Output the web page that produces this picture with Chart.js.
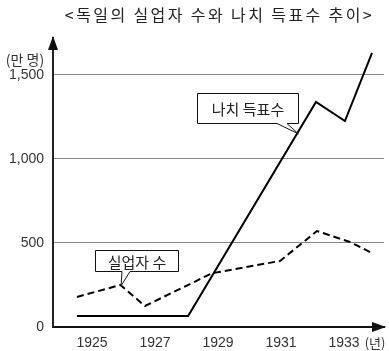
<!DOCTYPE html>
<html>
<head>
<meta charset="utf-8">
<script src="https://cdn.jsdelivr.net/npm/chart.js@4.4.1/dist/chart.umd.min.js"></script>
<style>
  html, body { margin: 0; padding: 0; background: #fff; }
  #wrap { width: 389px; height: 351px; }
</style>
</head>
<body>
<div id="wrap"><canvas id="chart"></canvas></div>
<script>
// values (만 명)
const yearTicks = [1925, 1927, 1929, 1931, 1933];
const valueTicks = [0, 500, 1000, 1500];

const naziYears = [1924.52, 1928.05, 1932.11, 1933.03, 1933.89];
const naziVotes = [65, 65, 1339, 1226, 1631];

const jobYears = [1924.52, 1925.9, 1926.68, 1928.81, 1930.97, 1932.14, 1933.19, 1933.89];
const jobless = [179, 250, 125, 320, 393, 571, 506, 440];

const titleText = '<독일의 실업자 수와 나치 득표수 추이>';
const KR = '"Noto Sans CJK KR", sans-serif';

function toPoints(xs, ys) {
  return xs.map((x, i) => ({ x: x, y: ys[i] }));
}

// title, callout boxes, axis arrows, unit labels
const extras = {
  id: 'extras',
  afterDraw(chart) {
    const c = chart.ctx;
    const x = chart.scales.x, y = chart.scales.y;
    const area = chart.chartArea;
    c.save();

    // title (wide letter spacing like the original)
    c.fillStyle = '#222';
    c.font = '16px ' + KR;
    c.textAlign = 'center';
    c.textBaseline = 'middle';
    c.letterSpacing = '2.4px';
    c.fillText(titleText, (area.left + area.right) / 2 + 1, 15);
    c.letterSpacing = '0px';

    // axis arrows
    c.fillStyle = '#111';
    c.beginPath();
    c.moveTo(area.left, area.top - 2);
    c.lineTo(area.left - 5, area.top + 12);
    c.lineTo(area.left + 5, area.top + 12);
    c.closePath();
    c.fill();
    c.beginPath();
    c.moveTo(area.right + 2, area.bottom);
    c.lineTo(area.right - 12, area.bottom - 5);
    c.lineTo(area.right - 12, area.bottom + 5);
    c.closePath();
    c.fill();

    // unit labels
    c.fillStyle = '#333';
    c.font = '14px ' + KR;
    c.fillText('(만 명)', 25, 60);
    c.font = '13px ' + KR;
    c.fillText('(년)', 375, 343);

    // callouts
    function callout(text, bx, by, bw, bh, t1, t2, tipX, tipY) {
      c.fillStyle = '#fff';
      c.strokeStyle = '#111';
      c.lineWidth = 1;
      c.beginPath();
      c.moveTo(bx, by);
      c.lineTo(bx + bw, by);
      c.lineTo(bx + bw, by + bh);
      c.lineTo(t2, by + bh);
      c.lineTo(tipX, tipY);
      c.lineTo(t1, by + bh);
      c.lineTo(bx, by + bh);
      c.closePath();
      c.fill();
      c.stroke();
      c.fillStyle = '#222';
      c.font = '15px ' + KR;
      c.fillText(text, bx + bw / 2, by + bh / 2 + 1);
    }
    callout('나치 득표수', 197.5, 93.5, 101, 30, 277, 287,
      x.getPixelForValue(1931.55), y.getPixelForValue(1150));
    callout('실업자 수', 95.5, 250.5, 83, 21, 122, 130,
      x.getPixelForValue(1925.92), y.getPixelForValue(245));

    c.restore();
  }
};

new Chart(document.getElementById('chart'), {
  type: 'line',
  data: {
    datasets: [
      {
        label: '나치 득표수',
        data: toPoints(naziYears, naziVotes),
        borderColor: '#000',
        borderWidth: 2,
        pointRadius: 0,
        tension: 0,
      },
      {
        label: '실업자 수',
        data: toPoints(jobYears, jobless),
        borderColor: '#000',
        borderWidth: 2,
        borderDash: [7, 4],
        pointRadius: 0,
        tension: 0,
      },
    ],
  },
  options: {
    responsive: true,
    maintainAspectRatio: false,
    animation: false,
    locale: 'en-US',
    layout: { padding: { top: 38, right: 5, left: 0, bottom: 0 } },
    plugins: {
      legend: { display: false },
      tooltip: { enabled: false },
      title: { display: false },
    },
    scales: {
      x: {
        type: 'linear',
        min: 1923.76,
        max: 1934.27,
        afterBuildTicks: (s) => { s.ticks = yearTicks.map(v => ({ value: v })); },
        afterFit: (s) => { s.height = 24; },
        grid: { display: false, drawTicks: false },
        border: { color: '#111', width: 2 },
        ticks: {
          padding: 8,
          color: '#333',
          font: { family: '"Liberation Sans Narrow", "Liberation Sans", sans-serif', size: 14 },
          callback: (v) => String(v),
        },
      },
      y: {
        min: 0,
        max: 1720,
        afterBuildTicks: (s) => { s.ticks = valueTicks.map(v => ({ value: v })); },
        afterFit: (s) => { s.width = 53; },
        grid: {
          drawTicks: false,
          color: (ctx) => ctx.tick && ctx.tick.value === 0 ? 'rgba(0,0,0,0)' : '#888',
          lineWidth: 1,
        },
        border: { color: '#222', width: 2 },
        ticks: {
          padding: 9,
          color: '#333',
          font: { family: '"Liberation Sans", sans-serif', size: 14 },
        },
      },
    },
  },
  plugins: [extras],
});
</script>
</body>
</html>
